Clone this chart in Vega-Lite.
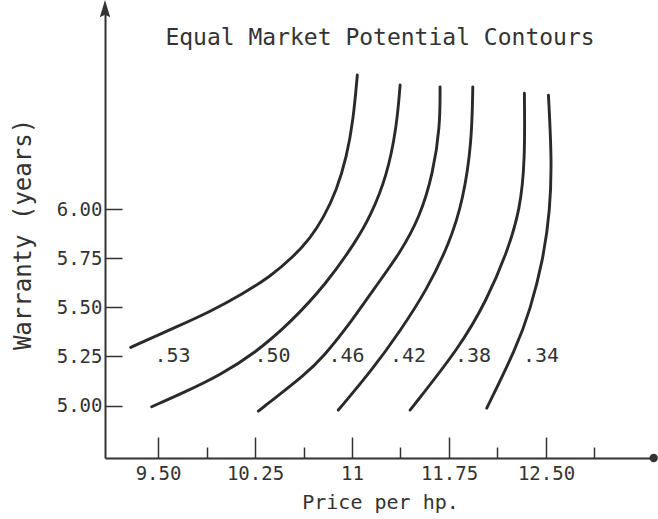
{
  "$schema": "https://vega.github.io/schema/vega-lite/v6.json",
  "width": 550,
  "height": 448,
  "autosize": {"type": "none"},
  "padding": {"left": 105, "top": 10, "right": 3, "bottom": 61},
  "background": "white",
  "title": {
    "text": "Equal Market Potential Contours",
    "anchor": "middle",
    "frame": "group",
    "baseline": "alphabetic",
    "offset": -68,
    "font": "DejaVu Sans Mono",
    "fontSize": 23,
    "fontWeight": "normal",
    "color": "#333333"
  },
  "config": {
    "view": {"stroke": null},
    "axis": {
      "grid": false,
      "domainColor": "#333333",
      "domainWidth": 2,
      "tickColor": "#333333",
      "tickWidth": 1.5,
      "labelColor": "#333333",
      "labelFont": "DejaVu Sans Mono",
      "labelFontSize": 19,
      "labelFlush": false,
      "labelOverlap": false,
      "titleColor": "#333333",
      "titleFont": "DejaVu Sans Mono",
      "titleFontWeight": "normal"
    }
  },
  "datasets": {
    "curves": [
      {"contour": ".53", "order": 1, "price": 9.289, "warranty": 5.296},
      {"contour": ".53", "order": 2, "price": 9.645, "warranty": 5.401},
      {"contour": ".53", "order": 3, "price": 9.902, "warranty": 5.477},
      {"contour": ".53", "order": 4, "price": 10.160, "warranty": 5.571},
      {"contour": ".53", "order": 5, "price": 10.366, "warranty": 5.655},
      {"contour": ".53", "order": 6, "price": 10.546, "warranty": 5.757},
      {"contour": ".53", "order": 7, "price": 10.676, "warranty": 5.851},
      {"contour": ".53", "order": 8, "price": 10.778, "warranty": 5.953},
      {"contour": ".53", "order": 9, "price": 10.882, "warranty": 6.097},
      {"contour": ".53", "order": 10, "price": 10.959, "warranty": 6.266},
      {"contour": ".53", "order": 11, "price": 11.010, "warranty": 6.453},
      {"contour": ".53", "order": 12, "price": 11.041, "warranty": 6.682},
      {"contour": ".50", "order": 1, "price": 9.451, "warranty": 4.994},
      {"contour": ".50", "order": 2, "price": 9.709, "warranty": 5.069},
      {"contour": ".50", "order": 3, "price": 9.980, "warranty": 5.155},
      {"contour": ".50", "order": 4, "price": 10.250, "warranty": 5.267},
      {"contour": ".50", "order": 5, "price": 10.521, "warranty": 5.420},
      {"contour": ".50", "order": 6, "price": 10.805, "warranty": 5.622},
      {"contour": ".50", "order": 7, "price": 11.037, "warranty": 5.842},
      {"contour": ".50", "order": 8, "price": 11.140, "warranty": 5.961},
      {"contour": ".50", "order": 9, "price": 11.269, "warranty": 6.164},
      {"contour": ".50", "order": 10, "price": 11.346, "warranty": 6.419},
      {"contour": ".50", "order": 11, "price": 11.372, "warranty": 6.631},
      {"contour": ".46", "order": 1, "price": 10.276, "warranty": 4.972},
      {"contour": ".46", "order": 2, "price": 10.650, "warranty": 5.164},
      {"contour": ".46", "order": 3, "price": 10.778, "warranty": 5.248},
      {"contour": ".46", "order": 4, "price": 10.985, "warranty": 5.418},
      {"contour": ".46", "order": 5, "price": 11.163, "warranty": 5.588},
      {"contour": ".46", "order": 6, "price": 11.372, "warranty": 5.776},
      {"contour": ".46", "order": 7, "price": 11.526, "warranty": 5.961},
      {"contour": ".46", "order": 8, "price": 11.627, "warranty": 6.183},
      {"contour": ".46", "order": 9, "price": 11.681, "warranty": 6.419},
      {"contour": ".46", "order": 10, "price": 11.681, "warranty": 6.622},
      {"contour": ".42", "order": 1, "price": 10.894, "warranty": 4.977},
      {"contour": ".42", "order": 2, "price": 11.155, "warranty": 5.181},
      {"contour": ".42", "order": 3, "price": 11.372, "warranty": 5.379},
      {"contour": ".42", "order": 4, "price": 11.578, "warranty": 5.588},
      {"contour": ".42", "order": 5, "price": 11.758, "warranty": 5.832},
      {"contour": ".42", "order": 6, "price": 11.859, "warranty": 6.046},
      {"contour": ".42", "order": 7, "price": 11.926, "warranty": 6.336},
      {"contour": ".42", "order": 8, "price": 11.934, "warranty": 6.622},
      {"contour": ".38", "order": 1, "price": 11.449, "warranty": 4.977},
      {"contour": ".38", "order": 2, "price": 11.836, "warranty": 5.299},
      {"contour": ".38", "order": 3, "price": 12.042, "warranty": 5.537},
      {"contour": ".38", "order": 4, "price": 12.197, "warranty": 5.776},
      {"contour": ".38", "order": 5, "price": 12.300, "warranty": 5.995},
      {"contour": ".38", "order": 6, "price": 12.338, "warranty": 6.249},
      {"contour": ".38", "order": 7, "price": 12.333, "warranty": 6.589},
      {"contour": ".34", "order": 1, "price": 12.042, "warranty": 4.987},
      {"contour": ".34", "order": 2, "price": 12.274, "warranty": 5.299},
      {"contour": ".34", "order": 3, "price": 12.377, "warranty": 5.486},
      {"contour": ".34", "order": 4, "price": 12.478, "warranty": 5.740},
      {"contour": ".34", "order": 5, "price": 12.532, "warranty": 5.995},
      {"contour": ".34", "order": 6, "price": 12.545, "warranty": 6.249},
      {"contour": ".34", "order": 7, "price": 12.519, "warranty": 6.580}
    ],
    "labels": [
      {"label": ".53", "price": 9.612, "warranty": 5.254},
      {"label": ".50", "price": 10.386, "warranty": 5.254},
      {"label": ".46", "price": 10.958, "warranty": 5.254},
      {"label": ".42", "price": 11.433, "warranty": 5.254},
      {"label": ".38", "price": 11.936, "warranty": 5.254},
      {"label": ".34", "price": 12.462, "warranty": 5.254}
    ]
  },
  "layer": [
    {
      "data": {"name": "curves"},
      "mark": {"type": "line", "interpolate": "basis", "stroke": "#2a2a2a", "strokeWidth": 2.9, "strokeCap": "round"},
      "encoding": {
        "x": {
          "field": "price",
          "type": "quantitative",
          "scale": {"domain": [9.09, 13.343], "nice": false, "zero": false},
          "axis": {
            "orient": "bottom",
            "title": "Price per hp.",
            "titleFontSize": 20,
            "titlePadding": 9,
            "values": [9.5, 10.25, 11, 11.75, 12.5],
            "labelExpr": "datum.value == 11 ? '11' : format(datum.value, '.2f')",
            "tickSize": -21,
            "labelPadding": 27
          }
        },
        "y": {
          "field": "warranty",
          "type": "quantitative",
          "scale": {"domain": [4.733, 7.013], "nice": false, "zero": false},
          "axis": {
            "title": "Warranty (years)",
            "titleFontSize": 24,
            "titlePadding": 21,
            "values": [5, 5.25, 5.5, 5.75, 6],
            "format": ".2f",
            "tickSize": -17,
            "labelPadding": 20
          }
        },
        "detail": {"field": "contour"},
        "order": {"field": "order", "type": "quantitative"}
      }
    },
    {
      "data": {"name": "labels"},
      "mark": {"type": "text", "font": "DejaVu Sans Mono", "fontSize": 20, "align": "center", "baseline": "middle", "color": "#333333"},
      "encoding": {
        "x": {
          "field": "price",
          "type": "quantitative",
          "axis": {
            "orient": "bottom",
            "title": null,
            "values": [9.875, 10.625, 11.375, 12.125, 12.875],
            "labels": false,
            "domain": false,
            "tickSize": -11
          }
        },
        "y": {"field": "warranty", "type": "quantitative"},
        "text": {"field": "label"}
      }
    },
    {
      "data": {"values": [{}]},
      "mark": {"type": "point", "shape": "M0,-1L0.6,1L0,0.7L-0.6,1Z", "filled": true, "size": 300, "color": "#333333", "opacity": 1},
      "encoding": {
        "x": {"datum": 9.09, "type": "quantitative", "axis": null},
        "y": {"datum": 7.02, "type": "quantitative"}
      }
    },
    {
      "data": {"values": [{}]},
      "mark": {"type": "point", "shape": "circle", "filled": true, "size": 70, "color": "#333333", "opacity": 1},
      "encoding": {
        "x": {"datum": 13.333, "type": "quantitative", "axis": null},
        "y": {"datum": 4.733, "type": "quantitative"}
      }
    }
  ],
  "resolve": {"axis": {"x": "independent"}}
}
